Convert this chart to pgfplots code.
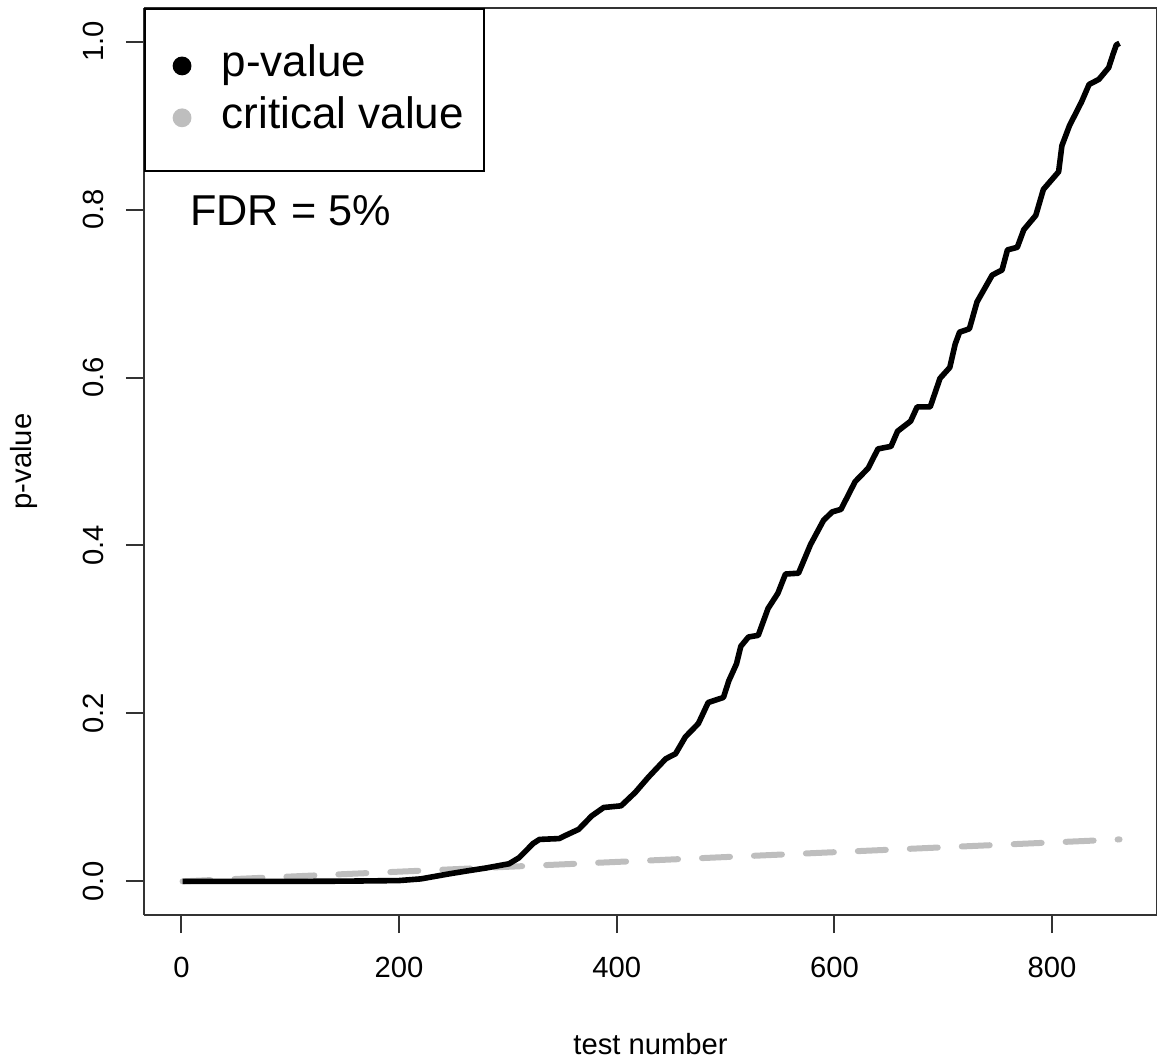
\documentclass[border=0pt]{standalone}
\usepackage{pgfplots}
\pgfplotsset{compat=1.18}
\usepackage{fontspec}
\setmainfont{Liberation Sans}
\definecolor{critgray}{RGB}{190,190,190}
\begin{document}
\begin{tikzpicture}
\begin{axis}[
  scale only axis,
  width=253.25pt, height=226.75pt,
  xmin=-34.4, xmax=896.4,
  ymin=-0.04, ymax=1.04,
  xtick={0,200,400,600,800},
  ytick={0,0.2,0.4,0.6,0.8,1.0},
  yticklabels={0.0,0.2,0.4,0.6,0.8,1.0},
  tick align=outside,
  major tick length=4.5pt,
  axis x line*=bottom, axis y line*=left,
  every outer x axis line/.append style={-},
  every outer y axis line/.append style={-},
  axis line style={black!80, line width=0.6pt},
  tick style={black!80, line width=0.5pt},
  tick label style={font=\fontsize{7.3}{8.5}\selectfont},
  /pgf/number format/assume math mode=true,
  y tick label style={rotate=90, anchor=south},
  xticklabel shift=2.5pt,
  yticklabel shift=2pt,
  xlabel={test number}, ylabel={p-value},
  label style={font=\fontsize{7.3}{8.5}\selectfont},
  xlabel style={at={(axis description cs:0.5,0)}, anchor=north, yshift=-26pt},
  ylabel style={at={(axis description cs:0,0.5)}, anchor=south, yshift=23pt},
  clip=false,
  legend style={at={(rel axis cs:0,1)}, anchor=north west, draw=black, line width=0.5pt,
    font=\fontsize{11}{12.5}\selectfont, inner xsep=3pt, inner ysep=7pt, row sep=-0.5pt,
    legend cell align=left},
  legend image code/.code={\fill[#1] (0.1cm+1.75pt,-0.5pt) circle (2.1pt); \path (-0.05cm,0) (0.3cm+3.75pt,0);},
]
\addlegendimage{black}
\addlegendentry{p-value}
\addlegendimage{critgray}
\addlegendentry{critical value}

\addplot[critgray, line width=1.5pt, line cap=round, dash pattern=on 7pt off 6pt, forget plot]
  coordinates {(1,0.000058) (862,0.05)};

\addplot[black, line width=1.4pt, line join=round, forget plot] coordinates {
(1,0) (30,0) (60,0) (100,0) (150,0.0003) (200,0.001) (220,0.003) (246,0.009)
(265,0.013) (280,0.016) (301,0.021) (310,0.028) (317,0.037) (323,0.045) (329,0.050)
(347,0.051) (355,0.056) (365,0.062) (377,0.078) (388,0.088) (404,0.090) (417,0.106)
(429,0.124) (445,0.146) (454,0.152) (463,0.172) (475,0.188) (484,0.213) (498,0.219)
(503,0.239) (510,0.259) (514,0.280) (521,0.291) (530,0.293) (539,0.325) (548,0.343)
(555,0.366) (567,0.367) (578,0.401) (590,0.430) (598,0.440) (606,0.443) (619,0.476)
(631,0.492) (640,0.515) (652,0.518) (658,0.536) (670,0.548) (676,0.565) (688,0.565)
(697,0.599) (706,0.612) (711,0.640) (715,0.654) (724,0.658) (731,0.690) (745,0.722)
(754,0.728) (759,0.752) (768,0.755) (774,0.776) (785,0.793) (792,0.824) (806,0.845)
(809,0.876) (816,0.900) (827,0.928) (834,0.949) (843,0.955) (852,0.969) (856,0.985)
(859,0.996) (862,0.998)
};
\node[anchor=west, font=\fontsize{10.8}{12}\selectfont, inner sep=0pt] at (rel axis cs:0.045,0.777) {FDR = 5\%};
\draw[black!80, line width=0.6pt] (rel axis cs:0,1) -- (rel axis cs:1,1) -- (rel axis cs:1,0);
\end{axis}
\pgfresetboundingbox
\path[use as bounding box] ([xshift=-36pt,yshift=-36pt]current axis.south west) rectangle ([yshift=2pt]current axis.north east);
\end{tikzpicture}
\end{document}
